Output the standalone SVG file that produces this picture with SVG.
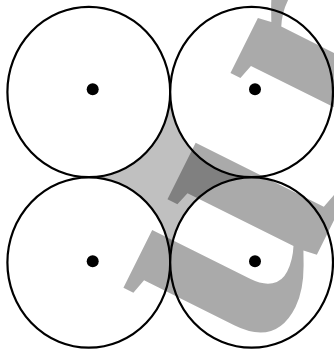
<svg xmlns="http://www.w3.org/2000/svg" width="334" height="354" viewBox="0 0 334 354">
<style>
.c{fill:#fff;stroke:#000;stroke-width:2.2}
.d{fill:#000}
.wm{font-family:"Liberation Serif","Times New Roman",serif;font-weight:bold;font-size:345px;fill:#000;fill-opacity:0.333;letter-spacing:44px}
</style>
<rect width="334" height="354" fill="#fff"/>
<polygon id="gap" points="170.2,92 251.6,177.3 170.2,262.5 88.8,177.3" fill="#c0c0c0"/>
<g id="circle-tl"><ellipse class="c" cx="88.8" cy="92" rx="81.4" ry="85.2"/><circle class="d" cx="92.7" cy="89.3" r="6"/></g>
<g id="circle-tr"><ellipse class="c" cx="251.6" cy="92" rx="81.4" ry="85.2"/><circle class="d" cx="255" cy="89.3" r="6"/></g>
<g id="circle-bl"><ellipse class="c" cx="88.8" cy="262.5" rx="81.4" ry="85.2"/><circle class="d" cx="92.7" cy="261.3" r="6"/></g>
<g id="circle-br"><ellipse class="c" cx="251.6" cy="262.5" rx="81.4" ry="85.2"/><circle class="d" cx="255" cy="261.3" r="6"/></g>
<g id="connectors"/>
<text class="wm" transform="translate(166.2,556.8) rotate(-63.5)" x="0" y="0">oun</text>
</svg>
